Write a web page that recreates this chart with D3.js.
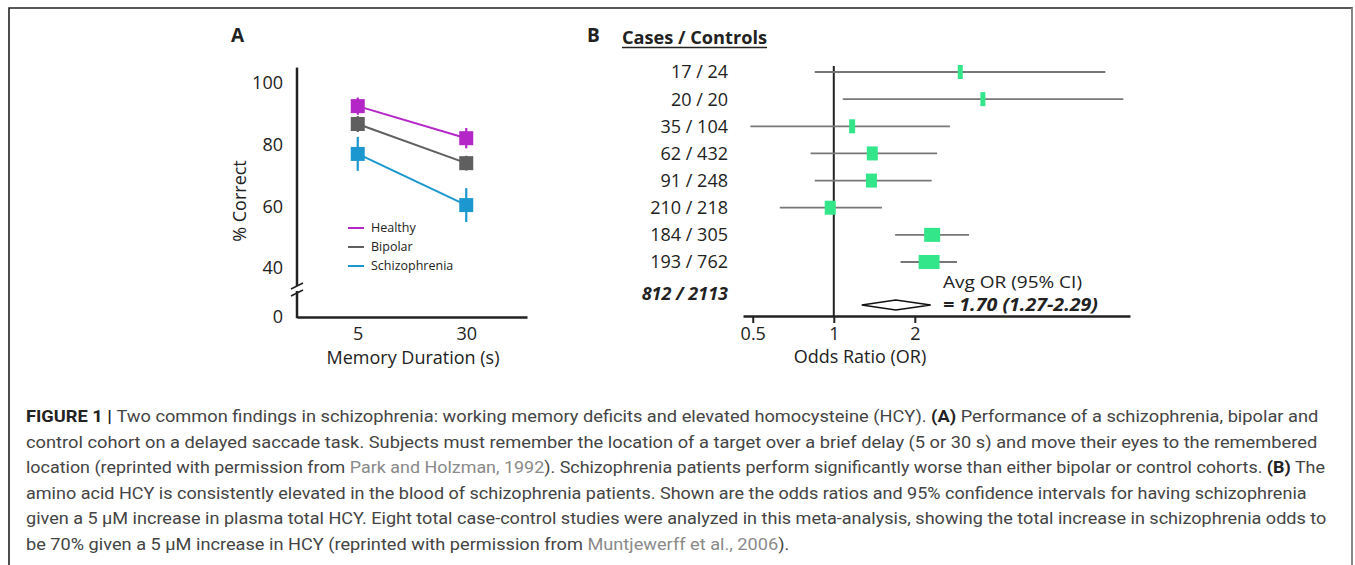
<!DOCTYPE html>
<html>
<head>
<meta charset="utf-8">
<script src="https://cdn.jsdelivr.net/npm/d3@7"></script>
<style>
body { margin: 0; background: #fff; }
svg { display: block; }
</style>
</head>
<body>
<svg id="fig"></svg>
<script>
var FONT = "'Open Sans', sans-serif";
var CAPFONT = "Roboto, sans-serif";
var WIDTH = 1355, HEIGHT = 565;

// panel A data
var durations = ['5', '30'];
var groupNames = ['Healthy', 'Bipolar', 'Schizophrenia'];
var groupColors = ['#b426c8', '#5f5f5f', '#1c97cf'];
var healthyMean = [92.5, 82.1];
var healthyErr = [2.8, 3.3];
var bipolarMean = [86.7, 74.0];
var bipolarErr = [2.6, 2.4];
var schizoMean = [77.0, 60.4];
var schizoErr = [5.5, 5.5];
var yTicksA = [0, 40, 60, 80, 100];

// panel B data
var studyLabels = ['17 / 24', '20 / 20', '35 / 104', '62 / 432', '91 / 248', '210 / 218', '184 / 305', '193 / 762'];
var studyOR = [2.95, 3.58, 1.17, 1.39, 1.38, 0.97, 2.32, 2.26];
var studyLow = [0.85, 1.08, 0.49, 0.82, 0.85, 0.63, 1.69, 1.77];
var studyHigh = [10.2, 11.9, 2.70, 2.42, 2.31, 1.51, 3.18, 2.87];
var studyWeight = [2.5, 2.5, 3, 5.5, 5.5, 5.5, 8, 10.5];
var pooledLabel = '812 / 2113';
var pooledOR = 1.70, pooledLow = 1.27, pooledHigh = 2.29;
var xTicksB = [0.5, 1, 2];

// caption, one entry per line: [text, style]
var captionLines = [
  [['FIGURE 1 | ', 'b'], ['Two common findings in schizophrenia: working memory deficits and elevated homocysteine (HCY). ', ''], ['(A)', 'b'], [' Performance of a schizophrenia, bipolar and', '']],
  [['control cohort on a delayed saccade task. Subjects must remember the location of a target over a brief delay (5 or 30 s) and move their eyes to the remembered', '']],
  [['location (reprinted with permission from ', ''], ['Park and Holzman, 1992', 'g'], ['). Schizophrenia patients perform significantly worse than either bipolar or control cohorts. ', ''], ['(B)', 'b'], [' The', '']],
  [['amino acid HCY is consistently elevated in the blood of schizophrenia patients. Shown are the odds ratios and 95% confidence intervals for having schizophrenia', '']],
  [['given a 5 \u03BCM increase in plasma total HCY. Eight total case-control studies were analyzed in this meta-analysis, showing the total increase in schizophrenia odds to', '']],
  [['be 70% given a 5 \u03BCM increase in HCY (reprinted with permission from ', ''], ['Muntjewerff et al., 2006', 'g'], [').', '']]
];
var captionEnds = [1319, 1318, 1326, 1307, 1327, 790];

var svg = d3.select('#fig').attr('width', WIDTH).attr('height', HEIGHT).style('font-family', FONT);

// frame
svg.append('path').attr('d', 'M9,' + HEIGHT + 'V8H1352V' + HEIGHT).attr('fill', 'none').attr('stroke', '#222').attr('stroke-width', 1.6);
svg.append('line').attr('x1', 1352).attr('x2', 1352).attr('y1', 8).attr('y2', HEIGHT).attr('stroke', '#888').attr('stroke-width', 2);

/** Panel A: line chart with error bars. */
function drawPanelA() {
  var g = svg.append('g');
  g.append('text').text('A').attr('x', 231).attr('y', 42).style('font-size', '19px').style('font-weight', 700).attr('fill', '#222');

  var x = d3.scalePoint().domain(durations).range([297, 527]).padding(0.56);
  var y = d3.scaleLinear().domain([0, 40, 100]).range([317, 268, 83]);

  // axes
  var yAxis = d3.axisLeft(y).tickValues(yTicksA).tickSize(0).tickPadding(14);
  var ya = g.append('g').attr('transform', 'translate(297,0)').call(yAxis);
  ya.select('.domain').remove();
  ya.selectAll('text').style('font-size', '18px').style('font-family', FONT).attr('fill', '#222');
  g.append('line').attr('x1', 297).attr('x2', 297).attr('y1', y(105)).attr('y2', y(0) + 1.2).attr('stroke', '#222').attr('stroke-width', 2.5);

  var xAxis = d3.axisBottom(x).tickSize(0).tickPadding(10).tickSizeOuter(0);
  var xa = g.append('g').attr('transform', 'translate(0,' + y(0) + ')').call(xAxis);
  xa.select('.domain').attr('stroke', '#222').attr('stroke-width', 2.5);
  xa.selectAll('text').style('font-size', '18px').style('font-family', FONT).attr('fill', '#222');

  // axis break
  g.append('rect').attr('x', 293).attr('y', 286).attr('width', 8).attr('height', 5).attr('fill', '#fff');
  [284, 291].forEach(function (yy) {
    g.append('line').attr('x1', 291).attr('x2', 303).attr('y1', yy + 5).attr('y2', yy - 1).attr('stroke', '#222').attr('stroke-width', 1.6);
  });

  g.append('text').text('% Correct').attr('transform', 'translate(246,201) rotate(-90)').attr('text-anchor', 'middle').style('font-size', '18px').attr('fill', '#222');
  g.append('text').text('Memory Duration (s)').attr('x', 413).attr('y', 364).attr('text-anchor', 'middle').style('font-size', '18px').attr('fill', '#222');

  var series = [[healthyMean, healthyErr], [bipolarMean, bipolarErr], [schizoMean, schizoErr]];
  var line = d3.line().x(function (d, i) { return x(durations[i]); }).y(function (d) { return y(d); });
  series.forEach(function (s, k) {
    var col = groupColors[k];
    g.append('path').datum(s[0]).attr('d', line).attr('fill', 'none').attr('stroke', col).attr('stroke-width', 2);
    s[0].forEach(function (m, i) {
      var cx = x(durations[i]);
      g.append('line').attr('x1', cx).attr('x2', cx).attr('y1', y(m - s[1][i])).attr('y2', y(m + s[1][i])).attr('stroke', col).attr('stroke-width', 2.2);
      g.append('rect').attr('x', cx - 7).attr('y', y(m) - 7).attr('width', 14).attr('height', 14).attr('fill', col);
    });
  });

  // legend
  groupNames.forEach(function (name, k) {
    var ly = 228 + k * 19;
    g.append('line').attr('x1', 348).attr('x2', 364).attr('y1', ly).attr('y2', ly).attr('stroke', groupColors[k]).attr('stroke-width', 2);
    g.append('text').text(name).attr('x', 371).attr('y', ly).attr('dy', '0.35em').style('font-size', '12.5px').attr('fill', '#222');
  });
}

/** Panel B: forest plot of odds ratios. */
function drawPanelB() {
  var g = svg.append('g');
  g.append('text').text('B').attr('x', 587).attr('y', 42).style('font-size', '19px').style('font-weight', 700).attr('fill', '#222');
  g.append('text').text('Cases / Controls').attr('x', 622).attr('y', 44).attr('textLength', 145).attr('lengthAdjust', 'spacingAndGlyphs')
    .style('font-size', '18px').style('font-weight', 700).attr('fill', '#222');
  g.append('line').attr('x1', 622).attr('x2', 767).attr('y1', 47.5).attr('y2', 47.5).attr('stroke', '#222').attr('stroke-width', 1.5);

  var x = d3.scaleLog().domain([0.46, 12.6]).range([743, 1130]);
  var y = d3.scalePoint().domain(studyLabels).range([72, 262]);
  var w = d3.scaleLinear().domain([0, 10.5]).range([0, 21]);
  var pooledY = y(studyLabels[studyLabels.length - 1]) + 32;
  var axisY = 316;

  var xAxis = d3.axisBottom(x).tickValues(xTicksB).tickFormat(d3.format('')).tickSizeInner(7).tickSizeOuter(0).tickPadding(4);
  var xa = g.append('g').attr('transform', 'translate(0,' + axisY + ')').call(xAxis);
  xa.select('.domain').attr('stroke', '#222').attr('stroke-width', 2.5);
  xa.selectAll('.tick line').attr('stroke', '#222').attr('stroke-width', 2);
  xa.selectAll('text').style('font-size', '18px').style('font-family', FONT).attr('fill', '#222');

  g.append('line').attr('x1', x(1)).attr('x2', x(1)).attr('y1', 66).attr('y2', axisY).attr('stroke', '#222').attr('stroke-width', 2);

  studyLabels.forEach(function (lab, i) {
    var cy = y(lab);
    g.append('text').text(lab).attr('x', 728).attr('y', cy).attr('dy', '0.36em').attr('text-anchor', 'end').style('font-size', '18px').attr('fill', '#222');
    g.append('line').attr('x1', x(studyLow[i])).attr('x2', x(studyHigh[i])).attr('y1', cy).attr('y2', cy).attr('stroke', '#777').attr('stroke-width', 1.8);
    var bw = w(studyWeight[i]);
    g.append('rect').attr('x', x(studyOR[i]) - bw / 2).attr('y', cy - 7).attr('width', bw).attr('height', 14).attr('fill', '#33e68a');
  });

  g.append('text').text(pooledLabel).attr('x', 728).attr('y', pooledY).attr('dy', '0.36em').attr('text-anchor', 'end')
    .style('font-size', '18px').style('font-weight', 700).style('font-style', 'italic').attr('fill', '#222');
  var dy = pooledY + 11;
  g.append('path').attr('d', 'M' + x(pooledLow) + ',' + dy + 'L' + x(pooledOR) + ',' + (dy - 5) + 'L' + x(pooledHigh) + ',' + dy + 'L' + x(pooledOR) + ',' + (dy + 5) + 'Z')
    .attr('fill', '#fff').attr('stroke', '#111').attr('stroke-width', 1.5);
  g.append('text').text('Avg OR (95% CI)').attr('x', 943).attr('y', 288).attr('textLength', 139).attr('lengthAdjust', 'spacingAndGlyphs')
    .style('font-size', '17px').attr('fill', '#222');
  g.append('text').text('= ' + pooledOR.toFixed(2) + ' (' + pooledLow + '-' + pooledHigh + ')').attr('x', 943).attr('y', 311)
    .attr('textLength', 155).attr('lengthAdjust', 'spacingAndGlyphs')
    .style('font-size', '17px').style('font-weight', 700).style('font-style', 'italic').attr('fill', '#222');

  g.append('text').text('Odds Ratio (OR)').attr('x', 860).attr('y', 363).attr('text-anchor', 'middle').style('font-size', '18px').attr('fill', '#222');
}

/** Caption below the panels, each line squeezed to its measured width. */
function drawCaption() {
  captionLines.forEach(function (runs, i) {
    var grp = svg.append('g');
    var t = grp.append('text').attr('x', 0).attr('y', 0).style('font-family', CAPFONT).style('font-size', '17px').attr('fill', '#444');
    runs.forEach(function (r) {
      var ts = t.append('tspan').text(r[0]);
      if (r[1] === 'b') ts.style('font-weight', 700).attr('fill', '#222');
      if (r[1] === 'g') ts.attr('fill', '#8a8a8a');
    });
    var natural = t.node().getComputedTextLength();
    var sx = (captionEnds[i] - 26) / natural;
    grp.attr('transform', 'translate(26,' + (422 + i * 25.6) + ') scale(' + sx + ',1)');
  });
}

drawPanelA();
drawPanelB();
drawCaption();
</script>
</body>
</html>
